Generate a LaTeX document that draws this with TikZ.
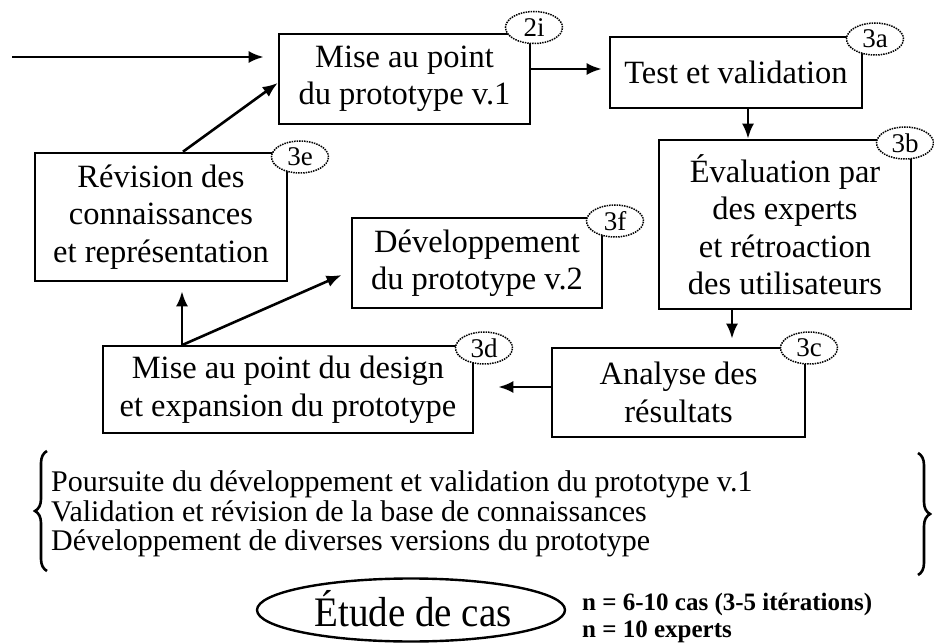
\documentclass[tikz,border=0pt]{standalone}
\usepackage{fontspec}
\setmainfont{Liberation Serif}
\usetikzlibrary{shapes.geometric,arrows.meta,decorations.pathreplacing,calc}
\begin{document}
\begin{tikzpicture}[x=1pt,y=-1pt,
  boxstyle/.style={draw, line width=2.6pt, inner sep=0pt, align=center,
    font=\fontsize{32.5}{37.5}\selectfont},
  badge/.style={ellipse, draw, densely dotted, line width=1.5pt, fill=white,
    minimum width=57pt, minimum height=32pt, inner sep=0pt,
    font=\fontsize{27}{27}\selectfont},
  arr/.style={line width=2.6pt, -{Latex[length=15pt,width=12pt]}},
  bracestyle/.style={line width=2.6pt, decorate, decoration={brace, amplitude=12pt}},
]
\useasboundingbox (0,0) rectangle (934,644);

% boxes
\node[boxstyle, minimum width=251pt, minimum height=90pt] (b2i) at (404.5,79) {Mise au point\\du prototype v.1};
\node[boxstyle, minimum width=252pt, minimum height=71pt] (b3a) at (736,72.5) {Test et validation};
\node[boxstyle, minimum width=252pt, minimum height=169pt] (b3b) at (785,224.5) {Évaluation par\\des experts\\et rétroaction\\des utilisateurs};
\node[boxstyle, minimum width=252pt, minimum height=128pt] (b3e) at (161,217) {Révision des\\connaissances\\et représentation};
\node[boxstyle, minimum width=250pt, minimum height=90pt] (b3f) at (477,263) {Développement\\du prototype v.2};
\node[boxstyle, minimum width=370pt, minimum height=87pt] (b3d) at (288,389.5) {Mise au point du design\\et expansion du prototype};
\node[boxstyle, minimum width=253pt, minimum height=89pt] (b3c) at (678.5,392.5) {Analyse des\\résultats};

% badges
\node[badge] (t2i) at (534,27.5) {2i};
\node[badge] (t3a) at (875,39) {3a};
\node[badge] (t3b) at (905,143) {3b};
\node[badge] (t3e) at (300,157) {3e};
\node[badge] (t3f) at (615,221) {3f};
\node[badge] (t3d) at (484,348) {3d};
\node[badge] (t3c) at (809,348) {3c};

% arrows
\coordinate (in) at (12,57);
\draw[arr, shorten >=14pt] (in) -- (in -| b2i.west);
\draw[arr, shorten >=7pt] (b2i.east |- 0,69) -- (b3a.west |- 0,69);
\draw[arr] (b3a.south -| 748,0) -- (b3b.north -| 748,0);
\draw[arr, shorten >=8pt] (b3b.south -| 732,0) -- (b3c.north -| 732,0);
\draw[arr, shorten >=24pt] (b3c.west |- 0,387) -- (b3d.east |- 0,387);
\draw[arr, shorten >=9pt] (b3d.north -| 182,0) -- (b3e.south -| 182,0);
\draw[arr, shorten >=10pt] (b3d.north -| 183,0) -- (b3f.west |- 0,271);
\draw[arr] (b3e.north -| 183,0) -- (b2i.west |- 0,83);

% list with braces
\node[anchor=west, align=left, inner sep=0pt, font=\fontsize{30}{29.5}\selectfont] (lst) at (51,514)
  {Poursuite du développement et validation du prototype v.1\\
   Validation et révision de la base de connaissances\\
   Développement de diverses versions du prototype};
\coordinate (lbA) at (47,571);
\coordinate (lbB) at (47,451);
\coordinate (rbA) at (918,453);
\coordinate (rbB) at (918,575);
\draw[bracestyle] (lbA) -- (lbB);
\draw[bracestyle] (rbA) -- (rbB);

% case study
\node[ellipse, draw, line width=2.4pt, minimum width=308pt, minimum height=63pt, inner sep=0pt] (etude) at (411,610) {};
\node[inner sep=0pt, font=\fontsize{42}{42}\selectfont] (etudetxt) at (413,609) {\scalebox{0.93}[1]{Étude de cas}};
\node[anchor=west, align=left, inner sep=0pt, font=\bfseries\fontsize{25}{27}\selectfont] (nn) at (582,618)
  {n = 6-10 cas (3-5 itérations)\\n = 10 experts};
\end{tikzpicture}
\end{document}
